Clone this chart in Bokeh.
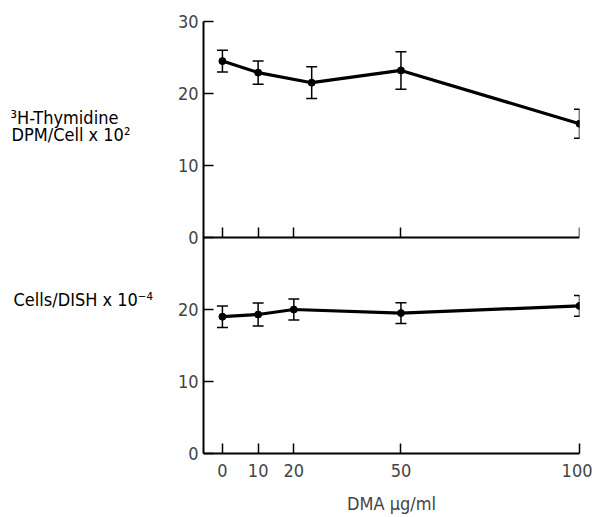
from bokeh.plotting import figure
from bokeh.layouts import row
from bokeh.models import (Range1d, LinearAxis, FixedTicker, Whisker, TeeHead,
                          ColumnDataSource)
from bokeh.core.properties import value
from bokeh.embed import file_html
from bokeh.resources import INLINE

# ---- data ----
doses_top = [0, 10, 25, 50, 100]
thymidine = [24.5, 22.9, 21.5, 23.2, 15.8]
thymidine_err = [1.5, 1.6, 2.2, 2.6, 2.0]

doses_bottom = [0, 10, 20, 50, 100]
cells = [19.0, 19.3, 20.0, 19.5, 20.5]
cells_err = [1.5, 1.6, 1.45, 1.45, 1.45]

x_ticks = [0, 10, 20, 50, 100]
y_ticks_bottom = [0, 10, 20]
y_ticks_top = [0, 10, 20, 30]

panel_titles = ["³H-Thymidine", "DPM/Cell x 10²", "Cells/DISH x 10⁻⁴"]
x_title = "DMA µg/ml"

FONT = "DejaVu Sans Condensed"
FS = "18px"
H = 517
LEFT_W = 173

# ---- left strip holding the horizontal panel titles ----
lab = figure(width=LEFT_W, height=H, output_backend="svg", toolbar_location=None,
             x_range=Range1d(0, LEFT_W), y_range=Range1d(H, 0),
             x_axis_type=None, y_axis_type=None, min_border=0)
lab.xgrid.visible = False
lab.ygrid.visible = False
lab.outline_line_color = None
lab.text(x=[10, 11, 13], y=[115, 135, 333], text=panel_titles,
         text_font=value(FONT), text_font_size=FS, text_color="black",
         text_baseline="alphabetic", text_align="left")

# ---- main chart ----
p = figure(width=592 - LEFT_W, height=H, output_backend="svg", toolbar_location=None,
           x_range=Range1d(-5.3, 100), y_range=Range1d(0, 60),
           min_border_left=203 - LEFT_W, min_border_right=13, min_border_top=21,
           min_border_bottom=64)
p.extra_y_ranges = {"top": Range1d(-30, 30)}
offset = -p.extra_y_ranges["top"].start

p.xgrid.visible = False
p.ygrid.visible = False
p.outline_line_color = None

xa = p.xaxis[0]
xa.ticker = FixedTicker(ticks=x_ticks)
xa.major_tick_in = 10
xa.major_tick_out = 0
xa.minor_tick_line_color = None
xa.axis_line_width = 2
xa.major_tick_line_width = 1.5
xa.major_label_text_font = FONT
xa.major_label_text_font_size = FS
xa.major_label_standoff = 10
xa.axis_label = x_title
xa.axis_label_text_font = FONT
xa.axis_label_text_font_size = FS
xa.axis_label_text_font_style = "normal"
xa.axis_label_standoff = 13

ya = p.yaxis[0]
ya.ticker = FixedTicker(ticks=y_ticks_bottom + [t + offset for t in y_ticks_top])
ya.major_label_overrides = {t + offset: str(t) for t in y_ticks_top}
ya.major_tick_in = 10
ya.major_tick_out = 0
ya.minor_tick_line_color = None
ya.axis_line_width = 2
ya.major_tick_line_width = 1.5
ya.major_label_text_font = FONT
ya.major_label_text_font_size = FS
ya.major_label_standoff = 5

# x axis of the upper panel, drawn at its zero line
mid = LinearAxis(fixed_location=offset, ticker=FixedTicker(ticks=x_ticks),
                 major_tick_in=10, major_tick_out=0, minor_tick_line_color=None,
                 major_label_text_color=None, major_label_text_font_size="0px",
                 axis_line_width=2, major_tick_line_width=1.5)
p.add_layout(mid, "below")

def heads():
    return dict(upper_head=TeeHead(size=11, line_width=1.5, line_color="black"),
                lower_head=TeeHead(size=11, line_width=1.5, line_color="black"))

src_top = ColumnDataSource(dict(
    x=doses_top, y=thymidine,
    upper=[v + e for v, e in zip(thymidine, thymidine_err)],
    lower=[v - e for v, e in zip(thymidine, thymidine_err)]))
p.line("x", "y", source=src_top, y_range_name="top", line_width=3.2, line_color="black")
p.scatter("x", "y", source=src_top, y_range_name="top", size=7, color="black")
p.add_layout(Whisker(source=src_top, base="x", upper="upper", lower="lower",
                     y_range_name="top", line_width=1.5, line_color="black", **heads()))

src_bot = ColumnDataSource(dict(
    x=doses_bottom, y=cells,
    upper=[v + e for v, e in zip(cells, cells_err)],
    lower=[v - e for v, e in zip(cells, cells_err)]))
p.line("x", "y", source=src_bot, line_width=3.2, line_color="black")
p.scatter("x", "y", source=src_bot, size=7, color="black")
p.add_layout(Whisker(source=src_bot, base="x", upper="upper", lower="lower",
                     line_width=1.5, line_color="black", **heads()))

layout = row(lab, p, spacing=0)
open("out.html", "w").write(file_html(layout, INLINE))
